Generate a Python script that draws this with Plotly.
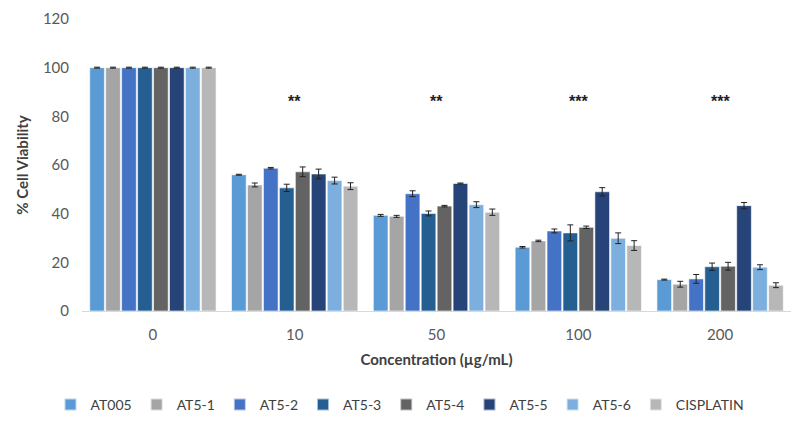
import plotly.graph_objects as go

concentrations = ["0", "10", "50", "100", "200"]
series_names = ["AT005", "AT5-1", "AT5-2", "AT5-3", "AT5-4", "AT5-5", "AT5-6", "CISPLATIN"]

at005 = [100, 56.0, 39.3, 26.2, 12.9]
at5_1 = [100, 51.8, 38.9, 28.8, 11.0]
at5_2 = [100, 58.7, 48.2, 32.9, 13.2]
at5_3 = [100, 50.6, 40.1, 32.1, 18.2]
at5_4 = [100, 57.2, 43.1, 34.4, 18.4]
at5_5 = [100, 56.3, 52.4, 49.0, 43.3]
at5_6 = [100, 53.6, 43.7, 29.9, 18.0]
cisplatin = [100, 51.3, 40.6, 26.9, 10.6]

err_at005 = [0.2, 0.2, 0.4, 0.3, 0.2]
err_at5_1 = [0.2, 0.8, 0.4, 0.3, 1.2]
err_at5_2 = [0.2, 0.3, 1.2, 0.8, 1.8]
err_at5_3 = [0.2, 1.5, 1.0, 3.3, 1.5]
err_at5_4 = [0.2, 2.0, 0.3, 0.5, 1.6]
err_at5_5 = [0.2, 2.0, 0.2, 1.7, 1.3]
err_at5_6 = [0.2, 1.4, 1.2, 2.2, 1.0]
err_cisplatin = [0.2, 1.4, 1.3, 2.0, 1.0]

significance = ["", "**", "**", "***", "***"]
sig_y = [86.0, 86.0, 86.0, 86.0, 86.0]

colors = ["#5B9BD5", "#A5A5A5", "#4472C4", "#255E91", "#636363", "#264478", "#7CAFDD", "#B7B7B7"]

values = [at005, at5_1, at5_2, at5_3, at5_4, at5_5, at5_6, cisplatin]
errors = [err_at005, err_at5_1, err_at5_2, err_at5_3, err_at5_4, err_at5_5, err_at5_6, err_cisplatin]

fig = go.Figure()
for name, vals, errs, col in zip(series_names, values, errors, colors):
    fig.add_trace(go.Bar(
        name=name, x=concentrations, y=vals,
        marker=dict(color=col, line=dict(color="rgba(255,255,255,0.6)", width=1)),
        error_y=dict(type="data", array=errs, visible=True, color="#222222", thickness=1, width=3),
    ))

for i, (s, yv) in enumerate(zip(significance, sig_y)):
    if s:
        fig.add_annotation(x=i, y=yv, text="<b>" + s + "</b>", showarrow=False,
                           font=dict(size=16, color="#222222", family="Liberation Sans"))

fig.update_layout(
    width=800, height=433,
    margin=dict(l=82, r=9, t=19, b=122, autoexpand=False),
    paper_bgcolor="white", plot_bgcolor="white",
    barmode="group", bargap=0.1, bargroupgap=0.08,
    font=dict(family="Lato", color="#595959", size=15),
    showlegend=True,
    legend=dict(orientation="h", xref="container", x=0.5, xanchor="center",
                yref="container", y=0.065, yanchor="middle",
                font=dict(size=14, color="#404040"), itemwidth=30, traceorder="normal",
                itemsizing="constant"),
    xaxis=dict(
        type="category", categoryorder="array", categoryarray=concentrations,
        title=dict(text="<b>Concentration (µg/mL)</b>", font=dict(size=15, color="#404040"), standoff=12),
        showline=True, linecolor="#D9D9D9", linewidth=1, ticks="", showgrid=False,
        tickfont=dict(size=15, color="#595959"), ticklabelstandoff=10,
    ),
    yaxis=dict(
        title=dict(text="<b>% Cell Viability</b>", font=dict(size=15, color="#404040"), standoff=10),
        range=[0, 120], dtick=20, showgrid=False, showline=False, zeroline=False, ticks="",
        tickfont=dict(size=15, color="#595959"), ticklabelstandoff=12,
    ),
)

fig.write_html("out.html")
